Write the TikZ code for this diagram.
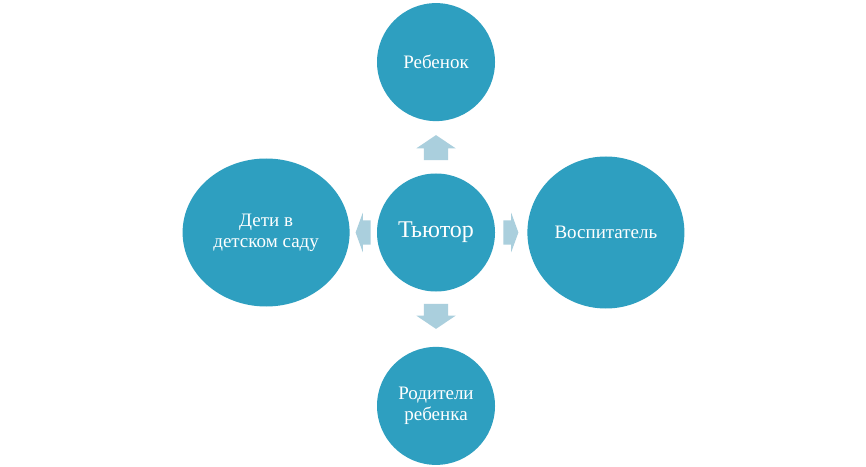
\documentclass[tikz,border=0pt]{standalone}
\usepackage{fontspec}
\setmainfont{Liberation Serif}
\usetikzlibrary{shapes.geometric,shapes.arrows,positioning,calc}
\definecolor{tealblue}{HTML}{2E9FC0}
\definecolor{paleblue}{HTML}{AACFDD}

\begin{document}
\begin{tikzpicture}[
  role/.style={circle,fill=tealblue,text=white,minimum size=118pt,inner sep=0pt,align=center,font=\fontsize{19}{21}\selectfont},
  oval/.style={ellipse,fill=tealblue,text=white,inner sep=0pt,align=center,font=\fontsize{19}{21}\selectfont},
  blockarrow/.style={single arrow,fill=paleblue,inner sep=0pt,single arrow head extend=7.5pt,anchor=tail},
  vertarrow/.style={blockarrow,minimum height=25pt,single arrow tip angle=112},
  horzarrow/.style={blockarrow,minimum height=15pt,single arrow tip angle=140}
]
\useasboundingbox[fill=white] (0,0) rectangle (866pt,466pt);

\node[role,font=\fontsize{24}{26}\selectfont] (tutor) at (436pt,233.5pt) {Тьютор};

% surrounding roles
\node[role,above=52pt of tutor] (child) {Ребенок};
\node[role,below=55pt of tutor] (parents) {Родители\\ребенка};
\node[oval,minimum width=167pt,minimum height=148pt,left=27pt of tutor] (kids) {Дети в\\детском саду};
\node[oval,minimum width=157pt,minimum height=152pt,right=32pt of tutor] (teacher) {Воспитатель};

% block arrows
\node[vertarrow,rotate=90] (toup) at ($(tutor.north)+(0,13pt)$) {\rule{0pt}{24pt}};
\node[vertarrow,rotate=270] (todown) at ($(tutor.south)+(0,-12pt)$) {\rule{0pt}{24pt}};
\node[horzarrow,rotate=180] (toleft) at ($(tutor.west)+(-6pt,0)$) {\rule{0pt}{24pt}};
\node[horzarrow] (toright) at ($(tutor.east)+(8pt,0)$) {\rule{0pt}{24pt}};
\end{tikzpicture}
\end{document}
